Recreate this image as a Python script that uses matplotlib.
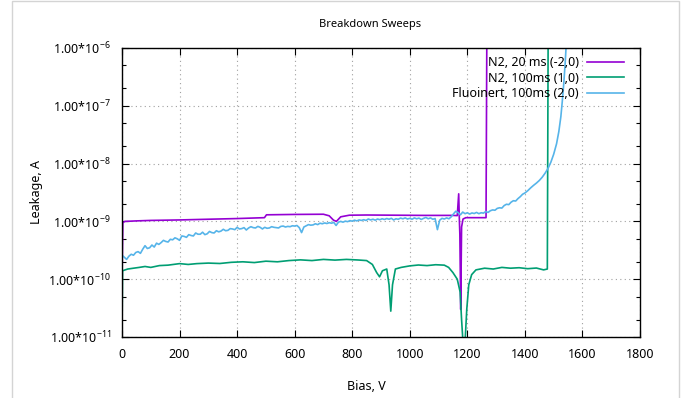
import matplotlib
matplotlib.use("Agg")
import matplotlib.pyplot as plt
from matplotlib.patches import Rectangle
from matplotlib.ticker import LogLocator, FixedLocator, NullFormatter

plt.rcParams['font.family'] = ['Noto Sans', 'DejaVu Sans']
plt.rcParams['mathtext.fontset'] = 'custom'
plt.rcParams['mathtext.rm'] = 'Noto Sans'
plt.rcParams['mathtext.default'] = 'regular'

# ---------------- data ----------------
n2_20_bias = [0, 3, 10, 50, 100, 200, 300, 400, 495, 502, 600, 700, 720, 735, 745, 760, 790,
              850, 950, 1050, 1150, 1165, 1170, 1172, 1174, 1177, 1180, 1185, 1195, 1230, 1265, 1268]
n2_20_leak = [1.0e-10, 9.5e-10, 1.0e-9, 1.02e-9, 1.04e-9, 1.06e-9, 1.09e-9, 1.12e-9, 1.16e-9, 1.3e-9,
              1.32e-9, 1.33e-9, 1.25e-9, 1.05e-9, 1.0e-9, 1.2e-9, 1.28e-9,
              1.29e-9, 1.28e-9, 1.27e-9, 1.27e-9, 1.26e-9, 3.0e-9, 1.2e-9, 6.0e-10, 3.0e-11, 8.0e-10,
              1.1e-9, 1.16e-9, 1.16e-9, 1.16e-9, 3.0e-6]

n2_100_bias = [0, 2, 20, 40, 60, 80, 100, 130, 160, 200, 230, 260, 300, 340, 380, 420, 460, 500,
               540, 580, 620, 660, 700, 740, 780, 820, 850, 870, 885, 895, 905, 920, 928, 934, 940,
               950, 970, 1000, 1030, 1060, 1090, 1120, 1135, 1150, 1165, 1175, 1180, 1185, 1192,
               1198, 1205, 1215, 1230, 1260, 1290, 1320, 1350, 1380, 1410, 1440, 1465, 1478, 1481]
n2_100_leak = [1.2e-11, 1.4e-10, 1.5e-10, 1.55e-10, 1.6e-10, 1.66e-10, 1.6e-10, 1.72e-10, 1.75e-10,
               1.86e-10, 1.8e-10, 1.86e-10, 1.9e-10, 1.87e-10, 1.96e-10, 2.0e-10, 1.94e-10, 2.05e-10,
               2.0e-10, 2.1e-10, 2.16e-10, 2.1e-10, 2.2e-10, 2.14e-10, 2.2e-10, 2.15e-10, 2.1e-10,
               1.8e-10, 1.3e-10, 1.1e-10, 1.4e-10, 1.5e-10, 8.0e-11, 2.8e-11, 8.0e-11,
               1.5e-10, 1.6e-10, 1.7e-10, 1.76e-10, 1.72e-10, 1.78e-10, 1.75e-10, 1.6e-10, 1.3e-10,
               1.0e-10, 6.0e-11, 2.0e-11, 8.0e-12, 8.0e-12,
               3.0e-11, 8.0e-11, 1.2e-10, 1.45e-10, 1.55e-10, 1.5e-10, 1.6e-10, 1.55e-10, 1.58e-10,
               1.52e-10, 1.56e-10, 1.45e-10, 1.5e-10, 3.0e-6]

fluo_bias = [0, 8, 16, 24, 32, 40, 48, 56, 64, 72, 80, 88, 96, 104, 112, 120, 128, 136, 144, 152,
             160, 168, 176, 184, 192, 200, 208, 216, 224, 232, 240, 248, 256, 264, 272, 280, 288,
             296, 304, 312, 320, 328, 336, 344, 352, 360, 368, 376, 384, 392, 400, 408, 416, 424,
             432, 440, 448, 456, 464, 472, 480, 488, 496, 504, 512, 520, 528, 536, 544, 552, 560,
             568, 576, 584, 592, 600, 608, 616, 624, 632, 640, 648, 656, 664, 672, 680, 688, 696,
             704, 712, 720, 728, 736, 744, 752, 760, 768, 776, 784, 792, 800, 808, 816, 824, 832,
             840, 848, 856, 864, 872, 880, 888, 896, 904, 912, 920, 928, 936, 944, 952, 960, 968,
             976, 984, 992, 1000, 1008, 1016, 1024, 1032, 1040, 1048, 1056, 1064, 1072, 1080, 1088,
             1096, 1104, 1112, 1120, 1128, 1136, 1144, 1152, 1160, 1168, 1176, 1184, 1192, 1200,
             1208, 1216, 1224, 1232, 1240, 1248, 1256, 1264, 1272, 1280, 1288, 1296, 1304, 1312,
             1320, 1328, 1336, 1344, 1352, 1360, 1368, 1376, 1384, 1392, 1400, 1410, 1420, 1430,
             1440, 1450, 1460, 1470, 1480, 1490, 1500, 1510, 1518, 1525, 1530, 1535, 1540, 1545]
fluo_leak = [2.6e-10, 2.4e-10, 2.2e-10, 2.5e-10, 2.7e-10, 2.6e-10, 2.9e-10, 3.0e-10, 2.8e-10, 3.3e-10,
             3.8e-10, 3.4e-10, 3.5e-10, 3.9e-10, 3.6e-10, 4.2e-10, 4.0e-10, 4.3e-10, 4.7e-10, 4.5e-10,
             4.4e-10, 4.9e-10, 4.8e-10, 5.2e-10, 5.0e-10, 4.7e-10, 5.6e-10, 5.5e-10, 5.3e-10, 5.9e-10,
             5.7e-10, 5.6e-10, 6.3e-10, 6.0e-10, 6.0e-10, 6.5e-10, 5.9e-10, 6.1e-10, 6.7e-10, 6.4e-10,
             6.3e-10, 6.9e-10, 6.6e-10, 6.8e-10, 7.3e-10, 6.9e-10, 7.0e-10, 7.5e-10, 7.4e-10, 7.2e-10,
             7.9e-10, 7.4e-10, 7.5e-10, 7.8e-10, 7.1e-10, 7.7e-10, 8.1e-10, 7.8e-10, 7.7e-10, 8.2e-10,
             7.9e-10, 7.4e-10, 7.9e-10, 7.6e-10, 7.7e-10, 8.1e-10, 7.9e-10, 7.8e-10, 7.7e-10, 8.2e-10,
             8.3e-10, 8.0e-10, 8.2e-10, 8.1e-10, 8.4e-10, 8.3e-10, 8.5e-10, 7.8e-10, 6.4e-10, 8.0e-10,
             8.4e-10, 8.8e-10, 8.6e-10, 8.7e-10, 9.1e-10, 8.8e-10, 9.3e-10, 9.1e-10, 9.4e-10, 9.2e-10,
             9.5e-10, 9.3e-10, 9.6e-10, 8.5e-10, 9.7e-10, 1.0e-9, 9.7e-10, 1.01e-9, 9.9e-10, 1.03e-9,
             1.01e-9, 1.05e-9, 1.02e-9, 1.06e-9, 1.04e-9, 1.07e-9, 1.04e-9, 1.1e-9, 1.06e-9, 1.09e-9,
             1.05e-9, 1.1e-9, 1.07e-9, 1.11e-9, 1.08e-9, 1.12e-9, 1.09e-9, 1.13e-9, 1.06e-9, 1.11e-9,
             1.09e-9, 1.14e-9, 1.11e-9, 1.15e-9, 1.1e-9, 1.13e-9, 1.09e-9, 1.15e-9, 1.11e-9, 1.14e-9,
             1.08e-9, 1.13e-9, 1.17e-9, 1.11e-9, 1.15e-9, 1.09e-9, 1.12e-9, 7.2e-10, 1.05e-9, 1.13e-9,
             1.1e-9, 1.15e-9, 1.11e-9, 1.2e-9, 1.35e-9, 1.5e-9, 1.42e-9, 1.3e-9, 1.45e-9, 1.36e-9,
             1.41e-9, 1.34e-9, 1.4e-9, 1.37e-9, 1.43e-9, 1.36e-9, 1.41e-9, 1.39e-9, 1.48e-9, 1.43e-9,
             1.53e-9, 1.58e-9, 1.56e-9, 1.68e-9, 1.72e-9, 1.7e-9, 1.88e-9, 1.98e-9, 1.95e-9, 2.15e-9,
             2.28e-9, 2.25e-9, 2.48e-9, 2.68e-9, 2.95e-9, 3.1e-9, 3.4e-9, 3.8e-9, 4.2e-9, 4.6e-9, 5.1e-9,
             5.8e-9, 6.8e-9, 8.2e-9, 1.05e-8, 1.45e-8, 2.2e-8, 3.6e-8, 6.5e-8, 1.2e-7, 2.4e-7,
             5.5e-7, 1.5e-6]

labels = ["N2, 20 ms (-2,0)", "N2, 100ms (1,0)", "Fluoinert, 100ms (2,0)"]
colors = ["#9400d3", "#009e73", "#56b4e9"]

x_ticks = [0, 200, 400, 600, 800, 1000, 1200, 1400, 1600, 1800]
y_ticks = [1e-11, 1e-10, 1e-9, 1e-8, 1e-7, 1e-6]
y_tick_labels = ["1.00*10$^{-11}$", "1.00*10$^{-10}$", "1.00*10$^{-9}$",
                 "1.00*10$^{-8}$", "1.00*10$^{-7}$", "1.00*10$^{-6}$"]

# ---------------- figure ----------------
W, H = 688, 398
fig = plt.figure(figsize=(W / 100, H / 100), dpi=100)
fig.patches.append(Rectangle((12 / W, -0.05), 667 / W, 1.05 - 1.5 / H, transform=fig.transFigure,
                             fill=False, edgecolor="#d4d4d4", linewidth=1.0))

ax = fig.add_axes([122 / W, 1 - 337 / H, (640 - 122) / W, (337 - 48) / H])

series = [(n2_20_bias, n2_20_leak), (n2_100_bias, n2_100_leak), (fluo_bias, fluo_leak)]
for (b, l), lab, c in zip(series, labels, colors):
    ax.plot(b, l, color=c, lw=1.2, label=lab)

ax.set_yscale("log")
ax.set_xlim(0, 1800)
ax.set_ylim(1e-11, 1e-6)
ax.xaxis.set_major_locator(FixedLocator(x_ticks))
ax.set_xticklabels([str(t) for t in x_ticks])
ax.yaxis.set_major_locator(FixedLocator(y_ticks))
ax.set_yticklabels(y_tick_labels)
ax.yaxis.set_minor_locator(LogLocator(base=10, subs=(2.0, 5.0)))
ax.yaxis.set_minor_formatter(NullFormatter())

ax.tick_params(axis="both", which="both", direction="in", top=True, right=True,
               labelsize=9, colors="black")
ax.tick_params(axis="x", which="major", length=5, width=0.8, pad=8)
ax.tick_params(axis="y", which="major", length=5, width=0.8, pad=8)
ax.tick_params(axis="y", which="minor", length=3, width=0.8)
for s in ax.spines.values():
    s.set_linewidth(1.0)
    s.set_color("black")

ax.grid(True, which="major", linestyle=(0, (1, 3)), color="#a0a0a0", linewidth=0.8)

ax.set_xlabel("Bias, V", fontsize=9)
ax.xaxis.set_label_coords((366 - 122) / (640 - 122), -(380 - 337) / (337 - 48))
ax.set_ylabel("Leakage, A", fontsize=9)
ax.yaxis.set_label_coords(-(122 - 43) / (640 - 122), (337 - 192) / (337 - 48))
fig.text(370 / W, 1 - 24 / H, "Breakdown Sweeps", ha="center", va="center", fontsize=8)

leg = ax.legend(loc="upper right", bbox_to_anchor=((626 - 122) / (640 - 122) + 0.012, 1.0),
                frameon=False, markerfirst=False, fontsize=9, handlelength=3.0,
                handletextpad=0.6, labelspacing=0.2, borderaxespad=0.4, borderpad=0.25)
for col in leg._legend_handle_box.get_children():
    col.align = "right"

fig.savefig("out.png", dpi=100)
